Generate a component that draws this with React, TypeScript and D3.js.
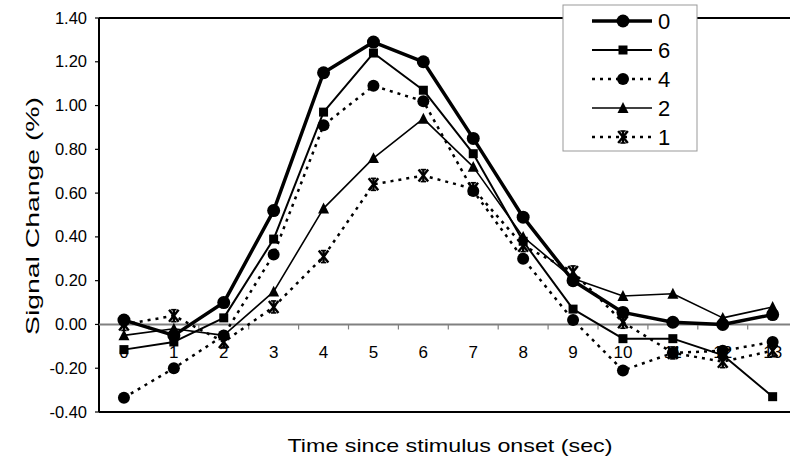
import React from "react";
import * as d3 from "d3";

const times = [0, 1, 2, 3, 4, 5, 6, 7, 8, 9, 10, 11, 12, 13];
const seriesNames = ["0", "6", "4", "2", "1"];
const s0 = [0.02, -0.05, 0.1, 0.52, 1.15, 1.29, 1.2, 0.85, 0.49, 0.2, 0.055, 0.01, 0.0, 0.045];
const s6 = [-0.115, -0.08, 0.03, 0.39, 0.97, 1.24, 1.07, 0.78, 0.38, 0.07, -0.065, -0.065, -0.14, -0.33];
const s4 = [-0.335, -0.2, -0.05, 0.32, 0.91, 1.09, 1.02, 0.61, 0.3, 0.02, -0.21, -0.13, -0.12, -0.08];
const s2 = [-0.05, -0.02, -0.05, 0.15, 0.53, 0.76, 0.94, 0.72, 0.4, 0.21, 0.13, 0.14, 0.03, 0.08];
const s1 = [0.0, 0.04, -0.08, 0.08, 0.31, 0.64, 0.68, 0.62, 0.36, 0.24, 0.01, -0.13, -0.17, -0.12];
const yTicks = [-0.4, -0.2, 0, 0.2, 0.4, 0.6, 0.8, 1.0, 1.2, 1.4];

const FONT = "'Liberation Sans', Arial, Helvetica, sans-serif";

type Style = { width: number; dash?: string; marker: string; size: number };
const styles: Style[] = [
  { width: 3.5, marker: "circle", size: 6.5 },
  { width: 2, marker: "square", size: 9 },
  { width: 2.5, dash: "3,5", marker: "circle", size: 6 },
  { width: 1.6, marker: "triangle", size: 11 },
  { width: 2.5, dash: "3,5", marker: "asterisk", size: 12 },
];

function Marker({ kind, x, y, size }: { kind: string; x: number; y: number; size: number }) {
  if (kind === "circle") return <circle cx={x} cy={y} r={size} fill="#000" />;
  if (kind === "square")
    return <rect x={x - size / 2} y={y - size / 2} width={size} height={size} fill="#000" />;
  if (kind === "triangle") {
    const h = size * 0.9;
    return (
      <path
        d={`M${x},${y - h / 2 - 1}L${x + size / 2},${y + h / 2}L${x - size / 2},${y + h / 2}Z`}
        fill="#000"
      />
    );
  }
  const r = size / 2;
  const dx = r * 0.8;
  const cap = r * 0.45;
  return (
    <g stroke="#000" strokeWidth={2.4} fill="none">
      <line x1={x} y1={y - r} x2={x} y2={y + r} />
      <line x1={x - dx} y1={y - r} x2={x + dx} y2={y + r} />
      <line x1={x + dx} y1={y - r} x2={x - dx} y2={y + r} />
      <line x1={x - cap} y1={y - r} x2={x + cap} y2={y - r} strokeWidth={1.6} />
      <line x1={x - cap} y1={y + r} x2={x + cap} y2={y + r} strokeWidth={1.6} />
    </g>
  );
}

export default function App() {
  const W = 790;
  const H = 464;
  const left = 99;
  const top = 18;
  const bottom = 412;
  const x = d3.scaleLinear().domain([-0.5, 13.5]).range([left, 797.6]);
  const y = d3.scaleLinear().domain([-0.4, 1.4]).range([bottom, top]);
  const data = [s0, s6, s4, s2, s1];
  const line = d3
    .line<number>()
    .x((_, i) => x(times[i]))
    .y((d) => y(d));
  const y0 = y(0);
  const boundaries = d3.range(0, 14).map((i) => i + 0.5);

  return (
    <svg
      width={W}
      height={H}
      style={{ position: "absolute", left: 0, top: 0, background: "#fff" }}
      fontFamily={FONT}
    >
      <rect x={0} y={0} width={W} height={H} fill="#fff" />
      {/* frame */}
      <line x1={left} y1={top} x2={W} y2={top} stroke="#000" strokeWidth={2} />
      <line x1={left} y1={bottom} x2={W} y2={bottom} stroke="#000" strokeWidth={2} />
      <line x1={left} y1={top} x2={left} y2={bottom} stroke="#000" strokeWidth={2} />
      {/* y ticks */}
      {yTicks.map((t) => (
        <g key={t}>
          <line x1={left - 4} x2={left} y1={y(t)} y2={y(t)} stroke="#000" strokeWidth={1.2} />
          <text x={87} y={y(t) + 5.5} textAnchor="end" fontSize={16.5} fill="#000">
            {t.toFixed(2)}
          </text>
        </g>
      ))}
      {/* zero line with category ticks */}
      <line x1={left} x2={W} y1={y0} y2={y0} stroke="#808080" strokeWidth={2} />
      {boundaries.map((b) => (
        <line key={b} x1={x(b)} x2={x(b)} y1={y0} y2={y0 + 5} stroke="#808080" strokeWidth={1.2} />
      ))}
      {times.map((t) => (
        <text key={t} x={x(t)} y={358} textAnchor="middle" fontSize={17} fill="#000">
          {t}
        </text>
      ))}
      {/* series */}
      {data.map((vals, si) => (
        <g key={si}>
          <path
            d={line(vals) || ""}
            fill="none"
            stroke="#000"
            strokeWidth={styles[si].width}
            strokeDasharray={styles[si].dash}
            strokeLinejoin="round"
          />
          {vals.map((v, i) => (
            <Marker key={i} kind={styles[si].marker} x={x(times[i])} y={y(v)} size={styles[si].size} />
          ))}
        </g>
      ))}
      {/* legend */}
      <rect x={563} y={5} width={134} height={146} fill="#fff" stroke="#999" strokeWidth={1} />
      {seriesNames.map((n, i) => {
        const ly = 21 + i * 29;
        return (
          <g key={n}>
            <line
              x1={592}
              x2={652}
              y1={ly}
              y2={ly}
              stroke="#000"
              strokeWidth={styles[i].width}
              strokeDasharray={styles[i].dash}
            />
            <Marker kind={styles[i].marker} x={623} y={ly} size={styles[i].size} />
            <text x={658} y={ly + 8} fontSize={22} fill="#000">
              {n}
            </text>
          </g>
        );
      })}
      {/* axis titles */}
      <text
        x={450}
        y={452}
        textAnchor="middle"
        fontSize={19}
        textLength={325}
        lengthAdjust="spacingAndGlyphs"
        fill="#000"
      >
        Time since stimulus onset (sec)
      </text>
      <text
        transform={`translate(39,216) rotate(-90)`}
        textAnchor="middle"
        fontSize={19}
        textLength={238}
        lengthAdjust="spacingAndGlyphs"
        fill="#000"
      >
        Signal Change (%)
      </text>
    </svg>
  );
}
